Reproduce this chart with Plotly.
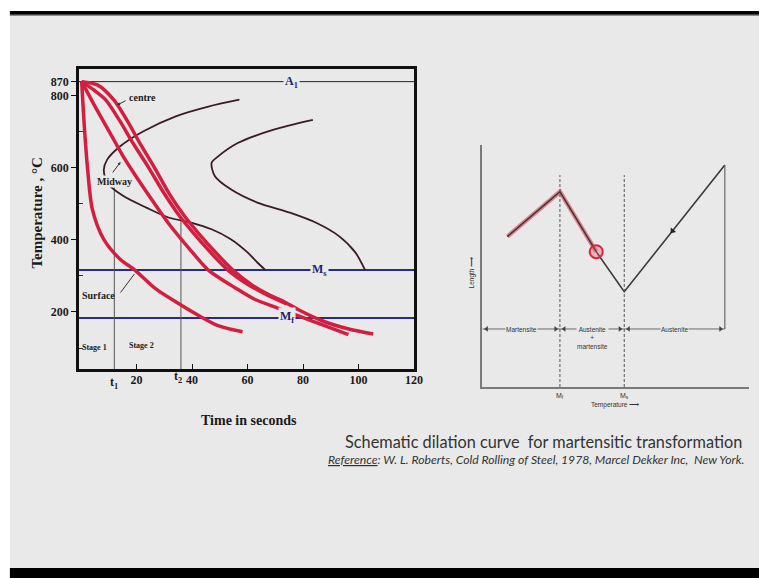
import plotly.graph_objects as go

W, H = 768, 578
def fx(p): return p / W
def fy(p): return 1 - p / H

# ---------------- Left chart: cooling curves (time s, temperature °C as drawn) ----------------
A1_level = 838          # drawn height of the 870 °C (A1) line
A1_label = "870"
Ms_level = 316
Mf_level = 183
t1, t2 = 12, 36
t1_top, t2_top = 561, 457

x_ticks = [20, 40, 60, 80, 100, 120]
y_ticks = [200, 400, 600, 800, A1_level]
y_ticktext = ["200", "400", "600", "800", A1_label]

surface_t = [0.25, 1.2, 2.4, 4.1, 8.2, 14.1, 19.4, 27.1, 34.1, 42.4, 49.4, 58.2]
surface_T = [838, 714, 594, 484, 401, 346, 316, 263, 228, 190, 162, 145]
midway_t = [0.25, 5.29, 10.59, 14.82, 18.25, 24.71, 31.76, 38.82, 45.88, 55.31, 62.36, 71.19, 78.35, 88.24, 96.35]
midway_T = [838, 766, 694, 636, 594, 520, 443, 377, 316, 268, 236, 210, 189, 161, 137]
inner_t = [0.25, 4.59, 8.82, 13.76, 18.71, 24.35, 29.99, 35.29, 40.59, 46.59, 52.94, 59.99, 66.35, 74.12]
inner_T = [838, 815, 788, 732, 668, 600, 528, 468, 418, 366, 316, 277, 250, 222]
centre_t = [0.25, 5.89, 11.75, 16.48, 21.18, 26.47, 31.76, 37.06, 42.35, 48.35, 54.71, 61.18, 67.06, 73.52,
            78.35, 87.07, 96.46, 105.28]
centre_T = [838, 829, 788, 732, 668, 600, 528, 468, 418, 366, 316, 277, 250, 227, 206, 175, 153, 139]

ttt1_t = [57.07, 45.88, 34.13, 22.34, 14.12, 9.42, 8.22, 9.42, 15.28, 23.54, 31.76, 39.99, 47.05, 54.11, 60, 63.53, 66.46]
ttt1_T = [788, 769, 742, 700, 659, 622, 594, 558, 521, 489, 461, 447, 429, 401, 365, 337, 316]
ttt2_t = [83.54, 69.42, 56.47, 49.41, 47.05, 48.25, 54.11, 63.53, 75.28, 84.71, 92.94, 98.82, 102.35]
ttt2_T = [732, 705, 668, 631, 613, 576, 539, 503, 475, 447, 410, 365, 316]

# ---------------- Right chart: schematic dilation curve (arbitrary units) ----------------
dil_x = [9.4, 29.1, 42.7, 53.2, 90.9]
dil_y = [60.9, 79.1, 54.8, 38.6, 89.9]
Mf_x, Ms_x = 29.1, 53.2
phase_y = 23.5
dash_top = 85.8
phase_labels = ["Martensite", "Austenite<br>+<br>martensite", "Austenite"]

RED = "#d21f3f"
DARK = "#3a1c22"
BLUE = "#2a2a8e"
BG = "#e9e9e9"
SERIF = "Liberation Serif"

fig = go.Figure()

# horizontal reference lines
for lvl, col, w in [(A1_level, "#222222", 1), (Ms_level, BLUE, 2), (Mf_level, BLUE, 2)]:
    fig.add_trace(go.Scatter(x=[-0.7, 120], y=[lvl, lvl], mode="lines",
                             line=dict(color=col, width=w), hoverinfo="skip", xaxis="x", yaxis="y"))
# t1, t2 verticals
for tv, top in [(t1, t1_top), (t2, t2_top)]:
    fig.add_trace(go.Scatter(x=[tv, tv], y=[37, top], mode="lines",
                             line=dict(color="#555555", width=1), hoverinfo="skip"))
# TTT C-curves
for tt, TT in [(ttt1_t, ttt1_T), (ttt2_t, ttt2_T)]:
    fig.add_trace(go.Scatter(x=tt, y=TT, mode="lines", line=dict(color=DARK, width=1.8, shape="spline", smoothing=0.8),
                             hoverinfo="skip"))
# cooling curves
for tt, TT in [(surface_t, surface_T), (midway_t, midway_T), (inner_t, inner_T), (centre_t, centre_T)]:
    fig.add_trace(go.Scatter(x=tt, y=TT, mode="lines", line=dict(color=RED, width=3.5, shape="spline", smoothing=0.8),
                             hoverinfo="skip"))

# ---- right chart traces ----
fig.add_trace(go.Scatter(x=dil_x[:3], y=dil_y[:3], mode="lines", line=dict(color="rgba(228,60,80,0.6)", width=4.5),
                         xaxis="x2", yaxis="y2", hoverinfo="skip"))
fig.add_trace(go.Scatter(x=dil_x, y=dil_y, mode="lines", line=dict(color="#3a3a3a", width=1.6),
                         xaxis="x2", yaxis="y2", hoverinfo="skip"))
for xv in [Mf_x, Ms_x]:
    fig.add_trace(go.Scatter(x=[xv, xv], y=[0, dash_top], mode="lines",
                             line=dict(color="#555555", width=1, dash="3px,2px"),
                             xaxis="x2", yaxis="y2", hoverinfo="skip"))
fig.add_trace(go.Scatter(x=[dil_x[-1], dil_x[-1]], y=[phase_y, dil_y[-1]], mode="lines",
                         line=dict(color="#6a6a6a", width=1.2), xaxis="x2", yaxis="y2", hoverinfo="skip"))
fig.add_trace(go.Scatter(x=[0, dil_x[-1]], y=[phase_y, phase_y], mode="lines",
                         line=dict(color="#6a6a6a", width=1), xaxis="x2", yaxis="y2", hoverinfo="skip"))
# small arrowheads on phase line
arr_x = [1.6, Mf_x - 1.6, Mf_x + 1.6, Ms_x - 1.6, Ms_x + 1.6, dil_x[-1] - 1.6]
arr_a = [270, 90, 270, 90, 270, 90]
fig.add_trace(go.Scatter(x=arr_x, y=[phase_y] * 6, mode="markers",
                         marker=dict(symbol="triangle-up", size=5, angle=arr_a, color="#444444"),
                         xaxis="x2", yaxis="y2", hoverinfo="skip"))
# direction arrow on the austenite branch
mx = dil_x[3] + 0.48 * (dil_x[4] - dil_x[3])
my = dil_y[3] + 0.48 * (dil_y[4] - dil_y[3])
fig.add_trace(go.Scatter(x=[mx], y=[my], mode="markers",
                         marker=dict(symbol="triangle-up", size=6, angle=219, color="#222222"),
                         xaxis="x2", yaxis="y2", hoverinfo="skip"))
# red circle highlight
fig.add_trace(go.Scatter(x=[dil_x[2]], y=[dil_y[2]], mode="markers",
                         marker=dict(symbol="circle", size=13, color="rgba(235,90,105,0.35)",
                                     line=dict(color="#d8283c", width=2)),
                         xaxis="x2", yaxis="y2", hoverinfo="skip"))

tickfont = dict(family=SERIF, size=12, color="#1a1a1a", weight="bold")
fig.update_layout(
    width=W, height=H, margin=dict(l=0, r=0, t=0, b=0),
    paper_bgcolor="white", plot_bgcolor="rgba(0,0,0,0)", showlegend=False,
    xaxis=dict(domain=[fx(80), fx(419)], range=[-0.7, 120], tickvals=x_ticks, ticks="inside", ticklen=5,
               tickwidth=1.2, tickcolor="#111", showline=True, linewidth=3, linecolor="#111", mirror=True,
               showgrid=False, zeroline=False, tickfont=tickfont, anchor="y", ticklabelstandoff=-2),
    yaxis=dict(domain=[fy(369), fy(69)], range=[42, 873], tickvals=y_ticks, ticktext=y_ticktext,
               ticks="outside", ticklen=5, tickwidth=1.2, tickcolor="#111", showline=True, linewidth=3,
               linecolor="#111", mirror=True, showgrid=False, zeroline=False, tickfont=tickfont, anchor="x",
               minor=dict(tickvals=[100, 300, 500, 700], ticks="inside", ticklen=4, tickcolor="#333")),
    xaxis2=dict(domain=[fx(488), fx(758)], range=[0, 100], showline=True, linecolor="#7a7a7a", linewidth=1.5,
                showticklabels=False, ticks="", showgrid=False, zeroline=False, anchor="y2"),
    yaxis2=dict(domain=[fy(387), fy(145)], range=[0, 98], showline=True, linecolor="#7a7a7a", linewidth=1.5,
                showticklabels=False, ticks="", showgrid=False, zeroline=False, anchor="x2"),
)

shapes = [
    dict(type="rect", xref="paper", yref="paper", x0=fx(10), x1=1, y0=fy(568), y1=fy(15),
         fillcolor=BG, line=dict(width=0), layer="below"),
    dict(type="rect", xref="paper", yref="paper", x0=0, x1=fx(10), y0=0, y1=1,
         fillcolor="white", line=dict(width=0), layer="below"),
    dict(type="rect", xref="paper", yref="paper", x0=fx(10), x1=1, y0=fy(15), y1=fy(11),
         fillcolor="#000000", line=dict(width=0), layer="below"),
    dict(type="rect", xref="paper", yref="paper", x0=fx(10), x1=1, y0=fy(16), y1=fy(14.5),
         fillcolor="#8a8a8a", line=dict(width=0), layer="below"),
    dict(type="rect", xref="paper", yref="paper", x0=fx(10), x1=1, y0=0, y1=fy(568),
         fillcolor="#000000", line=dict(width=0), layer="below"),
]
fig.update_layout(shapes=shapes)

ann = []
def A(**k):
    k.setdefault("xanchor", "center")
    k.setdefault("yanchor", "middle")
    ann.append(k)

lab = dict(family=SERIF, size=12, color="#1f1f6a", weight="bold")
A(x=75.9, y=A1_level, xref="x", yref="y", text="A<sub>1</sub>", showarrow=False, font=lab, bgcolor=BG,
  borderpad=1)
A(x=85.8, y=Ms_level, xref="x", yref="y", text="M<sub>s</sub>", showarrow=False, font=lab, bgcolor=BG, borderpad=1)
A(x=74.1, y=Mf_level + 2, xref="x", yref="y", text="M<sub>f</sub>", showarrow=False, font=lab, bgcolor=BG,
  borderpad=1)
small = dict(family=SERIF, size=10, color="#222", weight="bold")
A(x=fx(144), y=fy(97), xref="paper", yref="paper", text="centre", showarrow=False, font=small)
A(x=fx(118.5), y=fy(105), xref="paper", yref="paper", ax=10, ay=-5, text="", showarrow=True,
  arrowhead=2, arrowsize=0.6, arrowwidth=1, arrowcolor="#333")
A(x=fx(116), y=fy(182), xref="paper", yref="paper", text="Midway", showarrow=False, font=small, bgcolor=BG,
  borderpad=0)
A(x=fx(122), y=fy(162), xref="paper", yref="paper", ax=-9, ay=12, text="", showarrow=True,
  arrowhead=2, arrowsize=0.6, arrowwidth=1, arrowcolor="#333")
A(x=fx(100), y=fy(295), xref="paper", yref="paper", text="Surface", showarrow=False, font=small)
A(x=fx(136), y=fy(274), xref="paper", yref="paper", ax=-15, ay=20, text="", showarrow=True,
  arrowhead=0, arrowwidth=1, arrowcolor="#333")
stg = dict(family=SERIF, size=8, color="#222", weight="bold")
A(x=fx(96), y=fy(347), xref="paper", yref="paper", text="Stage 1", showarrow=False, font=stg)
A(x=fx(143), y=fy(345), xref="paper", yref="paper", text="Stage 2", showarrow=False, font=stg)
A(x=t1, y=fy(383), xref="x", yref="paper", text="t<sub>1</sub>", showarrow=False, font=tickfont)
A(x=t2 - 1, y=fy(377), xref="x", yref="paper", text="t<sub>2</sub>", showarrow=False, font=tickfont)
A(x=fx(252), y=fy(421), xref="paper", yref="paper", text="Time in seconds", showarrow=False,
  font=dict(family=SERIF, size=14, color="#1a1a1a", weight="bold"))
A(x=fx(37), y=fy(213), xref="paper", yref="paper", text="Temperature , °C", showarrow=False, textangle=-90,
  font=dict(family=SERIF, size=15, color="#1a1a1a", weight="bold"))

# right chart texts
tiny = dict(family="Liberation Sans", size=6.5, color="#333")
for xv, txt in zip([(0 + Mf_x) / 2, (Mf_x + Ms_x) / 2, (Ms_x + dil_x[-1]) / 2], phase_labels):
    A(x=xv, y=phase_y, xref="x2", yref="y2", text=txt, showarrow=False, font=tiny, bgcolor=BG, yanchor="top",
      yshift=4, borderpad=0)
A(x=Mf_x, y=fy(396), xref="x2", yref="paper", text="M<sub>f</sub>", showarrow=False,
  font=dict(family="Liberation Sans", size=7, color="#333"))
A(x=Ms_x, y=fy(396), xref="x2", yref="paper", text="M<sub>s</sub>", showarrow=False,
  font=dict(family="Liberation Sans", size=7, color="#333"))
A(x=fx(622), y=fy(405), xref="paper", yref="paper", text="Temperature ⟶", showarrow=False,
  font=dict(family="Liberation Sans", size=6.5, color="#333"))
A(x=fx(478), y=fy(272), xref="paper", yref="paper", text="Length ⟶", showarrow=False, textangle=-90,
  font=dict(family="Liberation Sans", size=6.5, color="#333"))

A(x=fx(550), y=fy(442), xref="paper", yref="paper", text="Schematic dilation curve  for martensitic transformation",
  showarrow=False, font=dict(family="Lato", size=16.3, color="#333333"))
A(x=fx(330), y=fy(459), xref="paper", yref="paper", xanchor="left",
  text="<i><u>Reference</u>: W. L. Roberts, Cold Rolling of Steel, 1978, Marcel Dekker Inc,  New York.</i>",
  showarrow=False, font=dict(family="Lato", size=12.2, color="#333333"))

fig.update_layout(annotations=ann)
fig.write_html("out.html", config={"displayModeBar": False},
               post_script="document.body.style.margin='0px';document.body.style.overflow='hidden';")
